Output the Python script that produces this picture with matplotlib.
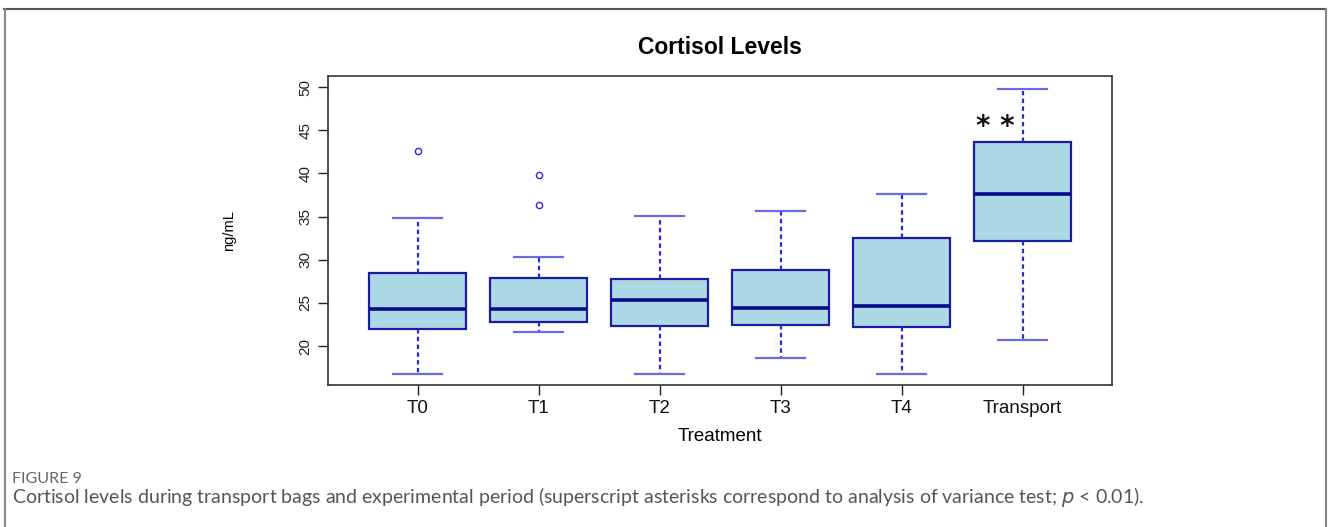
import matplotlib.pyplot as plt
from matplotlib.lines import Line2D

# values (ng/mL)
groups = ["T0", "T1", "T2", "T3", "T4", "Transport"]
whisker_low = [16.75, 21.6, 16.75, 18.6, 16.75, 20.7]
q1 = [22.0, 22.8, 22.3, 22.4, 22.2, 32.2]
median = [24.3, 24.3, 25.4, 24.4, 24.6, 37.6]
q3 = [28.45, 27.9, 27.75, 28.8, 32.5, 43.6]
whisker_high = [34.8, 30.3, 35.05, 35.6, 37.6, 49.8]
outliers = [[42.6], [39.8, 36.4], [], [], [], []]
y_ticks = [20, 25, 30, 35, 40, 45, 50]

stats = []
for i, g in enumerate(groups):
    stats.append({"label": g, "whislo": whisker_low[i], "q1": q1[i], "med": median[i],
                  "q3": q3[i], "whishi": whisker_high[i], "fliers": outliers[i]})

fig = plt.figure(figsize=(13.28, 5.27), dpi=100)
ax = fig.add_axes([0.247, 0.2695, 0.5905, 0.5865])

ax.bxp(stats, widths=0.8, patch_artist=True, showfliers=True,
       boxprops=dict(facecolor="#add8e6", edgecolor="#1c1ca0", linewidth=1.6),
       medianprops=dict(color="#0a0a8c", linewidth=2.6),
       whiskerprops=dict(color="#2a2ae0", linewidth=1.6, linestyle=(0, (2, 1.5))),
       capprops=dict(color="#6a6ae6", linewidth=1.6),
       flierprops=dict(marker="o", markerfacecolor="none", markeredgecolor="#2a2ad0",
                       markersize=4.5, markeredgewidth=1.0))

ax.set_xlim(0.26, 6.74)
ax.set_ylim(15.5, 51.3)
ax.set_yticks(y_ticks)
ax.set_yticklabels([str(t) for t in y_ticks], rotation=90, va="center",
                   fontsize=11, family=["Liberation Sans Narrow", "Liberation Sans"], color="#222222")
ax.set_xticks(range(1, len(groups) + 1))
ax.set_xticklabels(groups, fontsize=13.5, family="Liberation Sans", color="#111111")
ax.tick_params(axis="both", direction="out", length=7, width=1.0, color="#222222")
ax.tick_params(axis="y", pad=4)
ax.tick_params(axis="x", pad=4)
for s in ax.spines.values():
    s.set_color("#333333")
    s.set_linewidth(1.2)

ax.set_title("Cortisol Levels", fontsize=16.5, fontweight="bold", family="Liberation Sans", pad=16)
ax.set_xlabel("Treatment", fontsize=13.5, family="Liberation Sans", labelpad=8)
ax.set_ylabel("ng/mL", fontsize=10.5, family=["Liberation Sans Narrow", "Liberation Sans"], labelpad=45)

ax.text(5.77, 45.4, "* *", fontsize=20, fontweight="bold", ha="center", va="center", color="#111111")

# outer frame of the published figure
fig.add_artist(Line2D([0.003, 0.9985], [0.983, 0.983], color="#555555", linewidth=1.5))
fig.add_artist(Line2D([0.004, 0.004], [0.0, 0.983], color="#888888", linewidth=1.5))
fig.add_artist(Line2D([0.9985, 0.9985], [0.0, 0.983], color="#888888", linewidth=1.5))

fig.text(0.009, 0.091, "FIGURE 9", fontsize=11.5, color="#666666", family="Lato", va="center")
fig.text(0.009, 0.057,
         "Cortisol levels during transport bags and experimental period (superscript asterisks "
         "correspond to analysis of variance test; $p$ < 0.01).",
         fontsize=14, color="#555555", family="Lato", va="center")

fig.savefig("out.png", dpi=100)
